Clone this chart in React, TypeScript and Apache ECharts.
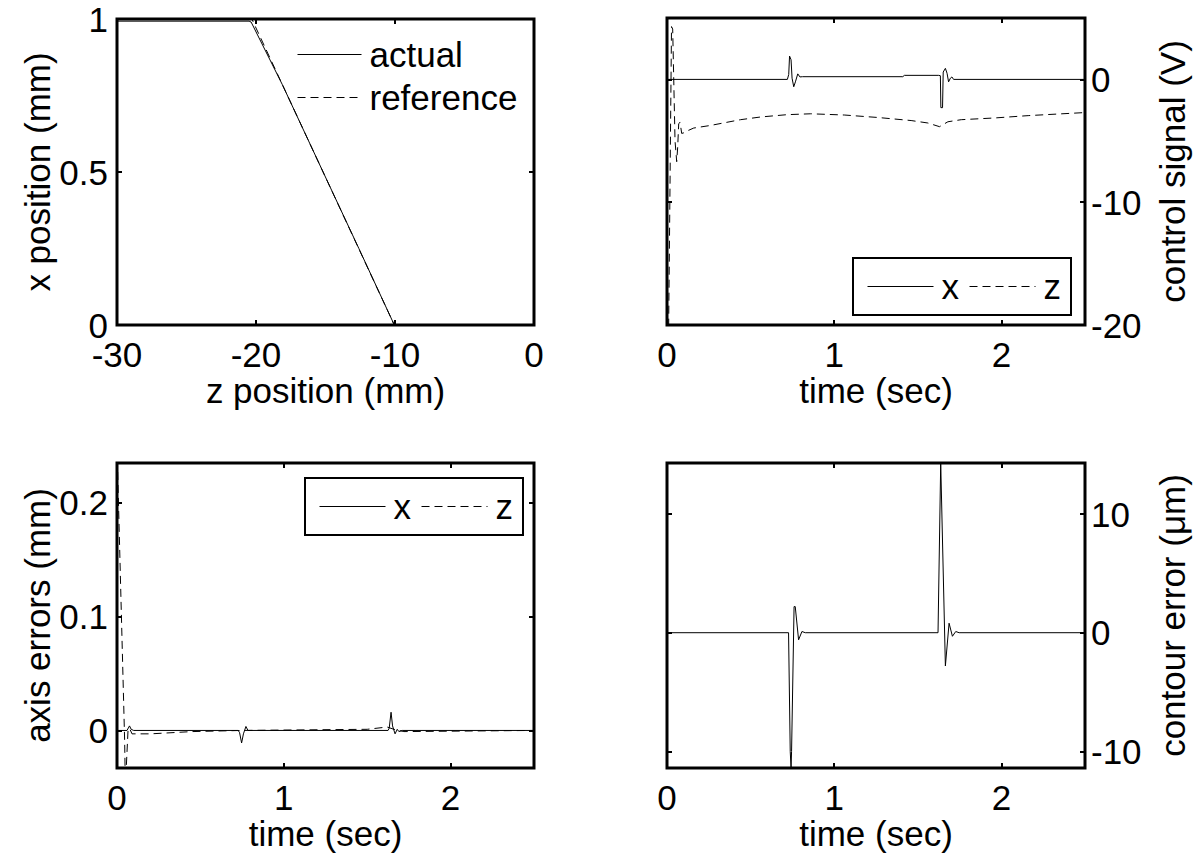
import React, { useEffect, useRef } from "react";
import * as echarts from "echarts";

const FONT = "'Liberation Sans', Arial, Helvetica, sans-serif";
const FS = 35;

// ---------- Top-left: x position vs z position ----------
const zTicks = [-30, -20, -10, 0];
const xPosTicks = [0, 0.5, 1];
const actualPath: [number, number][] = [
  [-30, 0.993], [-20.5, 0.993], [-20.35, 0.99], [-18.1, 0.785], [-15.07, 0.49],
  [-12.6, 0.25], [-10.1, 0.005], [-10.05, 0],
];
const referencePath: [number, number][] = [
  [-30, 1], [-20.3, 1], [-10.05, 0],
];

// ---------- Top-right: control signal ----------
const timeTicks = [0, 1, 2];
const controlTicks = [-20, -10, 0];
const controlX: [number, number][] = [
  [0, 0], [0.72, 0], [0.728, 0.4], [0.733, 1.9], [0.742, 1.6], [0.748, 0.1],
  [0.758, -0.6], [0.768, -0.2], [0.782, 0.45], [0.795, 0.2], [0.81, 0.22],
  [1.41, 0.22], [1.42, 0.33], [1.625, 0.33], [1.635, 0.3], [1.638, -2.3],
  [1.648, -2.3], [1.652, 0.6], [1.665, 0.9], [1.675, 0.5], [1.684, -0.2],
  [1.695, 0.1], [1.704, 0.2], [1.714, 0.0], [2.5, 0],
];
const controlZ: [number, number][] = [
  [0, -20], [0.01, -20], [0.027, 4.3], [0.034, 4.1], [0.048, -5.0], [0.058, -6.7],
  [0.064, -5.5], [0.07, -3.6], [0.078, -3.5], [0.088, -4.4], [0.1, -4.35],
  [0.12, -4.2], [0.16, -3.96], [0.26, -3.75], [0.44, -3.28], [0.56, -3.06],
  [0.72, -2.87], [0.86, -2.8], [1.06, -2.9], [1.26, -3.1], [1.46, -3.35],
  [1.56, -3.55], [1.63, -3.85], [1.68, -3.45], [1.76, -3.28], [1.96, -3.14],
  [2.16, -2.95], [2.5, -2.7],
];

// ---------- Bottom-left: axis errors ----------
const axisErrTicks = [0, 0.1, 0.2];
const errX: [number, number][] = [
  [0, 0], [0.06, 0], [0.075, 0.004], [0.085, 0.001], [0.1, 0], [0.727, 0],
  [0.735, -0.002], [0.747, -0.011], [0.758, -0.003], [0.773, 0.0035],
  [0.785, 0], [1.625, 0], [1.632, 0.002], [1.643, 0.016], [1.652, 0.004],
  [1.667, -0.003], [1.68, 0.001], [1.69, -0.001], [1.71, 0], [2.5, 0],
];
const errZ: [number, number][] = [
  [0, 0.25], [0.046, -0.01], [0.05, -0.05], [0.054, -0.05], [0.066, 0],
  [0.075, 0.002], [0.09, -0.003], [0.2, -0.003], [0.45, -0.001], [0.75, 0],
  [1.5, 0.001], [1.62, 0.003], [1.66, 0.001], [1.72, -0.001], [2.5, 0],
];

// ---------- Bottom-right: contour error ----------
const contourTicks = [-10, 0, 10];
const contourErr: [number, number][] = [
  [0, 0], [0.727, 0], [0.737, -10], [0.742, -11.4], [0.745, -10], [0.76, 2.2],
  [0.767, 2.2], [0.787, -0.6], [0.807, 0.1], [0.827, 0], [1.621, 0],
  [1.637, 14.3], [1.641, 14.3], [1.665, -2.8], [1.687, 0.8], [1.707, -0.3],
  [1.727, 0.1], [1.747, 0], [2.5, 0],
];

const tickStyle = (ticks: number[]) => ({
  show: true,
  inside: true,
  length: 5,
  lineStyle: { color: "#000", width: 2 },
  customValues: ticks,
});

const labelStyle = (ticks: number[], margin: number) => ({
  show: true,
  customValues: ticks,
  margin,
  fontFamily: FONT,
  fontSize: FS,
  color: "#000",
  formatter: (v: number) => String(v),
});

const nameStyle = { fontFamily: FONT, fontSize: FS, color: "#000" };
const noLine = { show: false, onZero: false };

function mainX(gridIndex: number, min: number, max: number, ticks: number[], name: string) {
  return {
    type: "value", gridIndex, min, max, position: "bottom",
    name, nameLocation: "middle", nameGap: 46, nameTextStyle: nameStyle,
    axisLine: noLine,
    axisTick: tickStyle(ticks),
    axisLabel: labelStyle(ticks, 12),
    splitLine: { show: false },
  };
}
function mirrorX(gridIndex: number, min: number, max: number, ticks: number[]) {
  return {
    type: "value", gridIndex, min, max, position: "top",
    axisLine: noLine,
    axisTick: tickStyle(ticks),
    axisLabel: { show: false },
    splitLine: { show: false },
  };
}
function mainY(gridIndex: number, min: number, max: number, ticks: number[], name: string, side: string, gap: number) {
  return {
    type: "value", gridIndex, min, max, position: side,
    name, nameLocation: "middle", nameRotate: 90, nameGap: gap, nameTextStyle: nameStyle,
    axisLine: noLine,
    axisTick: tickStyle(ticks),
    axisLabel: labelStyle(ticks, side === "left" ? 9 : 6),
    splitLine: { show: false },
  };
}
function mirrorY(gridIndex: number, min: number, max: number, ticks: number[], side: string) {
  return {
    type: "value", gridIndex, min, max, position: side,
    axisLine: noLine,
    axisTick: tickStyle(ticks),
    axisLabel: { show: false },
    splitLine: { show: false },
  };
}

const line = (name: string, data: [number, number][], idx: number, dashed: boolean) => ({
  type: "line", name, data, xAxisIndex: idx, yAxisIndex: idx,
  symbol: "none", showSymbol: false, clip: true,
  lineStyle: { color: "#000", width: 1, type: dashed ? [8, 5] : "solid" },
  itemStyle: { color: "#000" },
  emphasis: { disabled: true },
});

const legendCommon = {
  itemWidth: 66,
  itemHeight: 14,
  selectedMode: false,
  itemStyle: { opacity: 0 },
  lineStyle: { width: 1 },
  textStyle: { fontFamily: FONT, fontSize: FS, color: "#000", padding: [0, 0, 0, 3] },
};

export default function App() {
  const ref = useRef<HTMLDivElement>(null);
  useEffect(() => {
    if (!ref.current) return;
    const chart = echarts.init(ref.current, null, { renderer: "svg" });
    const gridBase = { show: true, borderColor: "#000", borderWidth: 3, backgroundColor: "transparent" };
    chart.setOption({
      animation: false,
      backgroundColor: "#fff",
      grid: [
        { ...gridBase, left: 117, top: 19, width: 417, height: 306 },
        { ...gridBase, left: 667, top: 18, width: 418, height: 307 },
        { ...gridBase, left: 117, top: 463, width: 417, height: 305 },
        { ...gridBase, left: 667, top: 463, width: 418, height: 305 },
      ],
      xAxis: [
        mainX(0, -30, 0, zTicks, "z position (mm)"),
        mainX(1, 0, 2.5, timeTicks, "time (sec)"),
        mainX(2, 0, 2.5, timeTicks, "time (sec)"),
        mainX(3, 0, 2.5, timeTicks, "time (sec)"),
        mirrorX(0, -30, 0, zTicks),
        mirrorX(1, 0, 2.5, timeTicks),
        mirrorX(2, 0, 2.5, timeTicks),
        mirrorX(3, 0, 2.5, timeTicks),
      ],
      yAxis: [
        mainY(0, 0, 1, xPosTicks, "x position (mm)", "left", 56),
        mainY(1, -20, 5, controlTicks, "control signal (V)", "right", 70),
        mainY(2, -0.033, 0.235, axisErrTicks, "axis errors (mm)", "left", 56),
        mainY(3, -11.4, 14.3, contourTicks, "contour error (μm)", "right", 70),
        mirrorY(0, 0, 1, xPosTicks, "right"),
        mirrorY(1, -20, 5, controlTicks, "left"),
        mirrorY(2, -0.033, 0.235, axisErrTicks, "right"),
        mirrorY(3, -11.4, 14.3, contourTicks, "left"),
      ],
      legend: [
        {
          ...legendCommon,
          data: ["actual", "reference"],
          orient: "vertical",
          left: 297,
          top: 37,
          itemWidth: 64,
          itemGap: 8,
          padding: 0,
        },
        {
          ...legendCommon,
          data: ["x", "z"],
          orient: "horizontal",
          left: 853,
          top: 258,
          padding: [11, 10, 11, 14],
          itemGap: 10,
          borderColor: "#000",
          borderWidth: 2,
          backgroundColor: "#fff",
        },
        {
          ...legendCommon,
          data: ["x", "z"],
          orient: "horizontal",
          left: 305,
          top: 478,
          padding: [11, 10, 11, 14],
          itemGap: 10,
          borderColor: "#000",
          borderWidth: 2,
          backgroundColor: "#fff",
        },
      ],
      series: [
        line("reference", referencePath, 0, true),
        line("actual", actualPath, 0, false),
        line("x", controlX, 1, false),
        line("z", controlZ, 1, true),
        line("x", errX, 2, false),
        line("z", errZ, 2, true),
        line("contour", contourErr, 3, false),
      ],
    });
    return () => chart.dispose();
  }, []);
  return (
    <div
      ref={ref}
      style={{ position: "absolute", left: 0, top: 0, width: 1202, height: 861, background: "#fff" }}
    />
  );
}
